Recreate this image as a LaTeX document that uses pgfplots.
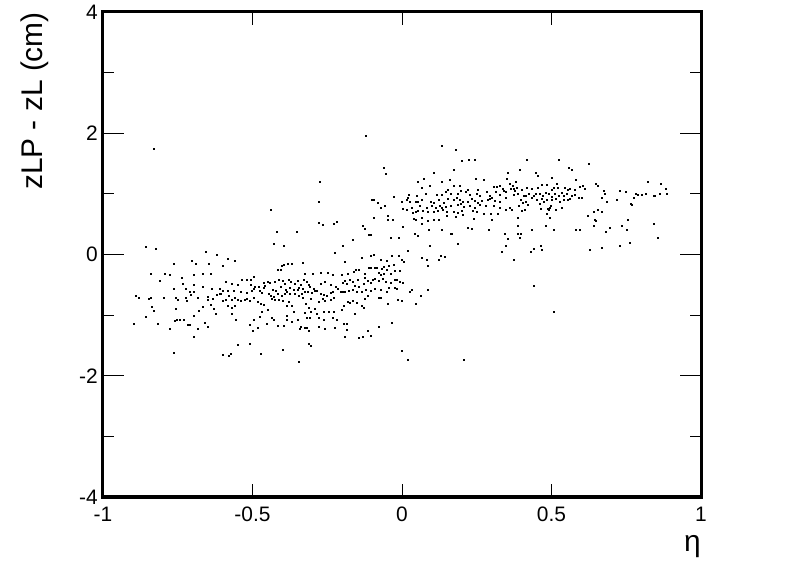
\documentclass[border=0pt]{standalone}
\usepackage{fontspec}
\setmainfont{Liberation Sans}
\usepackage{pgfplots}
\pgfplotsset{compat=1.18}
\begin{document}
\begin{tikzpicture}
\begin{axis}[
  scale only axis, width=598bp, height=485bp,
  xmin=-1, xmax=1, ymin=-4, ymax=4,
  xtick={-1,-0.5,0,0.5,1}, ytick={-4,-2,0,2,4}, minor ytick={-3,-1,1,3},
  major tick length=21bp, minor tick length=11bp,
  xtick style={/pgfplots/major tick length=13bp},
  tick align=inside,
  tick style={line width=1bp, black},
  axis line style={line width=3bp, line cap=rect},
  /pgf/number format/assume math mode=true,
  xticklabel style={inner sep=0pt, yshift=-10bp},
  yticklabel style={inner sep=0pt, xshift=-5bp},
  tick label style={font=\fontsize{21}{25}\selectfont},
  label style={font=\fontsize{30}{36}\selectfont, inner sep=0pt},
  xlabel={η},
  xlabel style={at={(rel axis cs:1,-0.078)}, anchor=north east},
  ylabel={zLP - zL (cm)},
  ylabel style={at={(rel axis cs:-0.114,1)}, anchor=east},
]
\addplot[only marks, mark=square*, mark size=0.5bp, mark options={draw=none, fill=black}] table {
x y
-0.856 0.13
-0.824 0.09
-0.656 0.05
-0.620 -0.01
-0.584 -0.07
-0.560 -0.11
-0.702 -0.10
-0.691 -0.15
-0.765 -0.15
-0.648 -0.15
-0.598 -0.18
-0.840 -0.31
-0.794 -0.31
-0.778 -0.33
-0.698 -0.33
-0.667 -0.31
-0.640 -0.31
-0.738 -0.38
-0.495 -0.37
-0.809 -0.43
-0.733 -0.48
-0.696 -0.50
-0.535 -0.42
-0.519 -0.42
-0.506 -0.42
-0.591 -0.45
-0.569 -0.48
-0.548 -0.50
-0.506 -0.49
-0.462 -0.47
-0.479 -0.53
-0.491 -0.53
-0.475 -0.59
-0.462 -0.54
-0.765 -0.57
-0.725 -0.57
-0.711 -0.61
-0.698 -0.62
-0.665 -0.53
-0.635 -0.56
-0.609 -0.56
-0.598 -0.59
-0.606 -0.64
-0.584 -0.60
-0.564 -0.59
-0.540 -0.62
-0.519 -0.63
-0.502 -0.60
-0.495 -0.57
-0.468 -0.63
-0.890 -0.68
-0.881 -0.71
-0.847 -0.73
-0.840 -0.71
-0.798 -0.72
-0.756 -0.72
-0.749 -0.74
-0.722 -0.71
-0.720 -0.76
-0.707 -0.67
-0.682 -0.72
-0.651 -0.70
-0.649 -0.75
-0.633 -0.73
-0.620 -0.67
-0.611 -0.65
-0.600 -0.77
-0.589 -0.74
-0.578 -0.68
-0.569 -0.75
-0.560 -0.72
-0.551 -0.75
-0.540 -0.77
-0.526 -0.75
-0.519 -0.73
-0.508 -0.76
-0.497 -0.72
-0.484 -0.78
-0.471 -0.81
-0.462 -0.83
-0.836 -0.86
-0.829 -0.92
-0.758 -0.90
-0.680 -0.92
-0.667 -0.86
-0.640 -0.83
-0.629 -0.89
-0.584 -0.85
-0.571 -0.87
-0.560 -0.84
-0.622 -0.97
-0.571 -0.97
-0.468 -0.95
-0.856 -1.03
-0.752 -1.07
-0.760 -1.09
-0.742 -1.08
-0.729 -1.07
-0.696 -1.01
-0.682 -1.23
-0.716 -1.16
-0.711 -1.15
-0.660 -1.13
-0.649 -1.19
-0.555 -1.08
-0.497 -1.07
-0.511 -1.16
-0.484 -1.20
-0.499 -1.25
-0.475 -1.03
-0.896 -1.14
-0.818 -1.14
-0.776 -1.22
-0.698 -1.36
-0.551 -1.49
-0.508 -1.47
-0.765 -1.62
-0.598 -1.66
-0.580 -1.67
-0.573 -1.63
-0.471 -1.63
-0.418 0.382
-0.353 0.382
-0.113 0.327
-0.104 0.327
-0.039 0.272
-0.012 0.283
-0.429 0.184
-0.394 0.140
-0.166 0.250
-0.197 0.151
-0.224 0.030
0.019 0.063
-0.093 -0.003
-0.104 -0.025
-0.135 -0.047
-0.191 -0.113
-0.072 -0.091
-0.035 -0.014
-0.012 -0.025
-0.001 -0.080
0.006 -0.124
-0.052 -0.102
-0.046 -0.179
-0.028 -0.168
-0.331 -0.135
-0.382 -0.157
-0.369 -0.146
-0.396 -0.168
-0.403 -0.190
-0.416 -0.256
-0.405 -0.256
-0.327 -0.311
-0.300 -0.311
-0.273 -0.300
-0.249 -0.300
-0.233 -0.333
-0.202 -0.333
-0.182 -0.311
-0.155 -0.256
-0.144 -0.245
-0.162 -0.289
-0.126 -0.311
-0.124 -0.377
-0.110 -0.223
-0.104 -0.223
-0.090 -0.223
-0.084 -0.212
-0.068 -0.234
-0.061 -0.201
-0.052 -0.256
-0.037 -0.311
-0.026 -0.267
-0.008 -0.267
-0.079 -0.300
-0.072 -0.333
-0.061 -0.311
-0.449 -0.454
-0.443 -0.465
-0.458 -0.520
-0.427 -0.443
-0.414 -0.421
-0.400 -0.432
-0.391 -0.476
-0.380 -0.421
-0.371 -0.454
-0.360 -0.487
-0.349 -0.432
-0.340 -0.498
-0.329 -0.421
-0.320 -0.443
-0.311 -0.498
-0.434 -0.575
-0.423 -0.597
-0.405 -0.531
-0.389 -0.586
-0.374 -0.553
-0.362 -0.575
-0.349 -0.586
-0.345 -0.542
-0.331 -0.564
-0.309 -0.531
-0.295 -0.564
-0.291 -0.597
-0.273 -0.476
-0.258 -0.454
-0.240 -0.498
-0.222 -0.531
-0.215 -0.564
-0.206 -0.608
-0.197 -0.465
-0.191 -0.432
-0.184 -0.487
-0.175 -0.410
-0.166 -0.454
-0.148 -0.421
-0.157 -0.509
-0.146 -0.531
-0.128 -0.476
-0.115 -0.432
-0.106 -0.465
-0.099 -0.421
-0.090 -0.399
-0.079 -0.432
-0.066 -0.399
-0.055 -0.443
-0.037 -0.465
-0.026 -0.410
-0.017 -0.421
-0.008 -0.454
0.003 -0.465
-0.026 -0.553
-0.017 -0.564
-0.447 -0.641
-0.438 -0.674
-0.429 -0.696
-0.416 -0.652
-0.403 -0.674
-0.391 -0.652
-0.385 -0.608
-0.374 -0.641
-0.360 -0.652
-0.347 -0.674
-0.336 -0.641
-0.324 -0.619
-0.316 -0.608
-0.302 -0.630
-0.284 -0.597
-0.271 -0.641
-0.262 -0.663
-0.251 -0.674
-0.240 -0.630
-0.231 -0.619
-0.200 -0.619
-0.191 -0.608
-0.177 -0.597
-0.166 -0.575
-0.151 -0.608
-0.135 -0.619
-0.122 -0.586
-0.104 -0.597
-0.090 -0.564
-0.072 -0.586
-0.052 -0.619
-0.043 -0.542
-0.436 -0.729
-0.425 -0.751
-0.411 -0.740
-0.398 -0.762
-0.378 -0.773
-0.333 -0.718
-0.307 -0.729
-0.280 -0.773
-0.266 -0.729
-0.258 -0.762
-0.240 -0.740
-0.229 -0.718
-0.180 -0.773
-0.166 -0.762
-0.151 -0.795
-0.126 -0.729
-0.115 -0.685
-0.079 -0.718
-0.072 -0.718
-0.048 -0.806
-0.014 -0.740
-0.001 -0.762
-0.449 -0.905
-0.385 -0.850
-0.369 -0.839
-0.322 -0.806
-0.311 -0.883
-0.291 -0.894
-0.262 -0.949
-0.246 -0.949
-0.229 -0.938
-0.202 -0.905
-0.195 -0.850
-0.175 -0.795
-0.159 -0.982
-0.135 -0.839
-0.128 -0.872
-0.362 -0.938
-0.327 -0.960
-0.307 -0.938
-0.318 -1.048
-0.309 -1.037
-0.436 -1.037
-0.429 -1.081
-0.387 -1.015
-0.385 -1.070
-0.369 -1.103
-0.349 -1.070
-0.284 -0.982
-0.278 -1.037
-0.262 -1.081
-0.233 -1.037
-0.220 -1.070
-0.452 -1.147
-0.416 -1.180
-0.394 -1.180
-0.338 -1.191
-0.327 -1.213
-0.318 -1.202
-0.342 -1.224
-0.313 -1.257
-0.280 -1.191
-0.260 -1.224
-0.226 -1.213
-0.195 -1.147
-0.186 -1.136
-0.184 -1.246
-0.115 -1.257
-0.079 -1.191
-0.035 -1.125
-0.191 -1.356
-0.144 -1.378
-0.104 -1.334
-0.130 -1.356
-0.311 -1.466
-0.304 -1.499
-0.400 -1.565
-0.001 -1.587
-0.347 -1.763
0.019 -1.741
-0.120 1.955
0.134 1.790
0.178 1.735
0.201 1.548
0.223 1.559
0.243 1.559
-0.060 1.438
-0.054 1.328
0.107 1.350
0.172 1.405
0.352 1.350
0.051 1.196
0.071 1.251
0.132 1.207
0.158 1.240
0.245 1.251
0.272 1.229
0.350 1.251
0.067 1.097
0.094 1.141
0.154 1.075
0.174 1.141
0.194 1.141
0.221 1.075
0.254 1.064
0.283 1.042
0.306 1.119
0.317 1.119
0.328 1.130
0.337 1.086
0.314 1.042
0.341 1.053
0.346 1.042
0.022 0.987
0.020 0.943
0.049 0.976
0.078 0.998
0.116 0.987
0.132 0.987
0.147 1.031
0.163 0.998
0.187 1.009
0.196 1.053
0.214 1.031
0.227 0.987
0.250 0.998
0.261 0.976
0.292 0.965
0.301 0.943
0.328 0.987
0.346 0.943
-0.029 0.954
0.000 0.877
0.016 0.899
0.025 0.866
0.045 0.866
0.054 0.866
0.067 0.899
0.096 0.866
0.107 0.855
0.123 0.899
0.138 0.855
0.152 0.921
0.172 0.910
0.183 0.943
0.192 0.910
0.203 0.866
0.221 0.866
0.232 0.921
0.243 0.888
0.254 0.855
0.268 0.888
0.288 0.899
0.294 0.921
0.310 0.888
0.326 0.877
-0.100 0.899
-0.096 0.899
-0.080 0.855
-0.071 0.767
-0.058 0.800
0.002 0.756
0.016 0.734
0.031 0.778
0.058 0.811
0.083 0.778
0.098 0.811
0.112 0.778
0.127 0.800
0.145 0.789
0.163 0.800
0.185 0.822
0.196 0.833
0.207 0.789
0.225 0.800
0.243 0.778
0.261 0.822
0.281 0.800
0.306 0.811
0.328 0.778
0.348 0.745
0.132 0.767
0.136 0.745
0.036 0.690
0.045 0.712
0.054 0.723
0.069 0.723
0.087 0.712
0.105 0.701
0.118 0.723
0.149 0.701
0.174 0.712
0.187 0.690
0.201 0.723
0.236 0.723
0.250 0.701
0.272 0.668
0.297 0.668
0.321 0.668
-0.094 0.613
-0.049 0.635
-0.047 0.569
-0.031 0.569
0.038 0.591
0.045 0.569
0.065 0.613
0.087 0.558
0.107 0.569
0.123 0.569
0.149 0.635
0.178 0.624
0.203 0.657
0.239 0.591
0.299 0.580
0.004 0.459
0.067 0.514
-0.132 0.481
-0.125 0.426
0.219 0.437
0.234 0.426
0.290 0.404
0.042 0.338
0.051 0.316
0.089 0.404
0.132 0.404
0.163 0.338
0.167 0.338
0.343 0.349
0.352 0.261
0.185 0.184
0.091 0.151
0.348 0.140
0.332 0.041
0.067 -0.058
0.083 -0.091
0.123 -0.091
0.129 -0.025
0.143 -0.036
0.087 -0.190
0.417 1.559
0.524 1.559
0.624 1.504
0.395 1.405
0.558 1.438
0.569 1.394
0.448 1.350
0.455 1.295
0.500 1.262
0.580 1.240
0.821 1.196
0.865 1.163
0.379 1.207
0.361 1.174
0.370 1.141
0.363 1.086
0.375 1.086
0.377 1.053
0.384 1.097
0.401 1.064
0.417 1.097
0.435 1.086
0.453 1.097
0.466 1.152
0.484 1.152
0.500 1.075
0.508 1.097
0.517 1.174
0.522 1.097
0.544 1.097
0.555 1.075
0.562 1.086
0.578 1.075
0.595 1.119
0.604 1.141
0.611 1.086
0.649 1.174
0.656 1.141
0.676 1.053
0.727 1.053
0.749 1.042
0.881 1.086
0.372 0.987
0.388 0.998
0.406 0.976
0.415 0.965
0.424 0.998
0.439 0.976
0.448 1.009
0.459 0.998
0.471 0.976
0.479 1.020
0.491 0.998
0.500 0.954
0.511 0.998
0.524 0.976
0.535 1.020
0.542 0.976
0.551 0.998
0.569 0.965
0.578 0.987
0.591 0.932
0.600 0.943
0.781 1.009
0.789 0.987
0.803 0.987
0.814 1.009
0.841 0.976
0.845 0.976
0.861 1.009
0.885 0.998
0.397 0.899
0.404 0.855
0.415 0.877
0.435 0.932
0.450 0.910
0.466 0.921
0.473 0.866
0.484 0.910
0.500 0.899
0.515 0.921
0.526 0.877
0.540 0.899
0.555 0.910
0.562 0.921
0.669 0.932
0.678 0.998
0.685 0.877
0.776 0.932
0.765 0.833
0.769 0.822
0.718 0.899
0.361 0.778
0.366 0.745
0.390 0.800
0.401 0.723
0.410 0.745
0.421 0.822
0.462 0.833
0.464 0.756
0.486 0.756
0.491 0.734
0.484 0.668
0.495 0.778
0.497 0.811
0.515 0.734
0.533 0.778
0.388 0.602
0.493 0.602
0.620 0.646
0.640 0.701
0.656 0.734
0.669 0.701
0.644 0.569
0.649 0.558
0.642 0.470
0.756 0.580
0.386 0.470
0.479 0.481
0.433 0.415
0.506 0.404
0.580 0.404
0.593 0.415
0.696 0.448
0.680 0.371
0.734 0.481
0.752 0.404
0.843 0.514
0.388 0.349
0.397 0.349
0.395 0.272
0.763 0.195
0.854 0.272
0.439 0.096
0.430 0.041
0.464 0.140
0.466 0.074
0.629 0.085
0.667 0.118
0.727 0.140
0.375 -0.080
0.033 -0.575
0.027 -0.619
0.085 -0.586
0.062 -0.674
0.047 -0.817
0.439 -0.520
0.506 -0.949
0.207 -1.730
-0.832 1.752
-0.274 1.208
-0.279 0.871
-0.439 0.746
-0.277 0.525
-0.265 0.492
-0.230 0.503
-0.218 0.536
};
\end{axis}
\pgfresetboundingbox
\path[use as bounding box] ([xshift=-103bp,yshift=-75bp]current axis.south west) rectangle ([xshift=95bp,yshift=12bp]current axis.north east);
\end{tikzpicture}
\end{document}
